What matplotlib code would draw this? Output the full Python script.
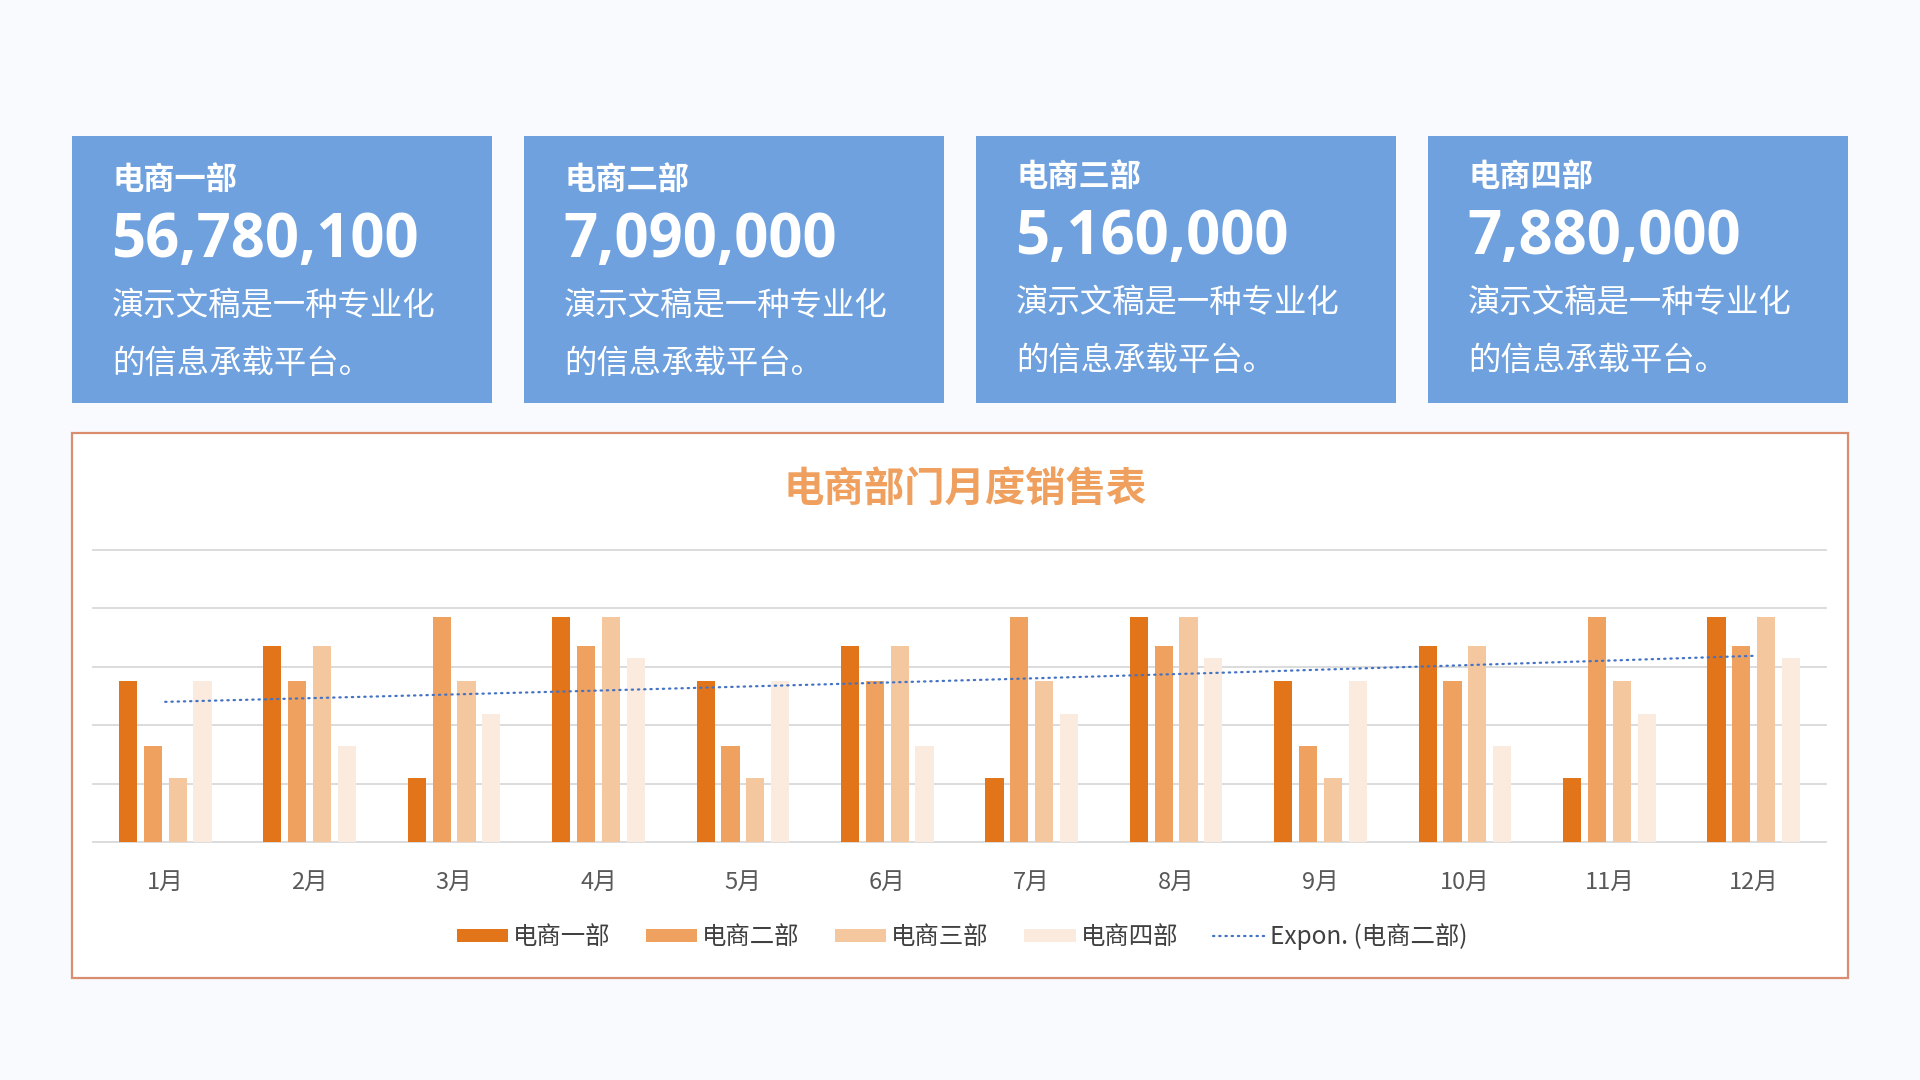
import matplotlib
matplotlib.use('Agg')
import matplotlib.pyplot as plt
import numpy as np
from matplotlib.patches import Rectangle

plt.rcParams['font.family'] = ['Noto Sans CJK SC', 'DejaVu Sans']

# ---------------- data ----------------
months = ['1月', '2月', '3月', '4月', '5月', '6月', '7月', '8月', '9月', '10月', '11月', '12月']
dept_names = ['电商一部', '电商二部', '电商三部', '电商四部']
dept1 = [55, 67, 22, 77, 55, 67, 22, 77, 55, 67, 22, 77]
dept2 = [33, 55, 77, 67, 33, 55, 77, 67, 33, 55, 77, 67]
dept3 = [22, 67, 55, 77, 22, 67, 55, 77, 22, 67, 55, 77]
dept4 = [55, 33, 44, 63, 55, 33, 44, 63, 55, 33, 44, 63]
trend_label = 'Expon. (电商二部)'

card_titles = ['电商一部', '电商二部', '电商三部', '电商四部']
card_values = [56780100, 7090000, 5160000, 7880000]
card_desc_line1 = '演示文稿是一种专业化'
card_desc_line2 = '的信息承载平台。'
chart_title = '电商部门月度销售表'

# ---------------- style ----------------
bar_colors = ['#E2751A', '#EFA25F', '#F5C79F', '#FBEBDE']
trend_color = '#4472C4'
card_color = '#6FA1DF'
bg_color = '#F8FAFD'

W, H = 1920, 1080
fig = plt.figure(figsize=(19.2, 10.8), dpi=100)
fig.patch.set_facecolor(bg_color)


def fx(px):
    return px / W


def fy(py):
    return 1 - py / H


# ---------------- cards ----------------
card_lefts = [72, 524, 976, 1428]
card_w = 420
card_top, card_bot = 136, 403
text_shift = [0, 0, -3, -3]
for left, title, val, s in zip(card_lefts, card_titles, card_values, text_shift):
    fig.patches.append(Rectangle((fx(left), fy(card_bot)), card_w / W, (card_bot - card_top) / H,
                                 transform=fig.transFigure, facecolor=card_color,
                                 edgecolor='none', zorder=-2))
    fig.text(fx(left + 40), fy(180 + s), title, fontsize=22.5, fontweight='bold',
             color='white', ha='left', va='center')
    fig.text(fx(left + 39), fy(257 + s), f'{val:,}', fontsize=43, fontweight='bold',
             family=['Open Sans', 'DejaVu Sans'], color='white', ha='left', va='baseline')
    fig.text(fx(left + 40), fy(306 + s), card_desc_line1, fontsize=23.3,
             color='white', ha='left', va='center')
    fig.text(fx(left + 40), fy(364 + s), card_desc_line2, fontsize=23.3,
             color='white', ha='left', va='center')

# ---------------- chart box ----------------
fig.patches.append(Rectangle((fx(72), fy(978)), (1848 - 72) / W, (978 - 433) / H,
                             transform=fig.transFigure, facecolor='white',
                             edgecolor='#DA8C6E', linewidth=1.6, zorder=-2))
fig.text(fx(965), fy(489.5), chart_title, fontsize=29.1, fontweight='bold',
         color='#EFA05E', ha='center', va='center')

ax = fig.add_axes([fx(93), fy(842), (1826 - 93) / W, (842 - 550) / H])
ax.set_facecolor('none')

x = np.arange(len(months))
step = 0.172
width = 0.1256
handles = []
for i, (vals, c, name) in enumerate(zip([dept1, dept2, dept3, dept4], bar_colors, dept_names)):
    b = ax.bar(x + (i - 1.5) * step, vals, width=width, color=c, zorder=2, label=name)
    handles.append(b)

# exponential trendline of 电商二部
coef = np.polyfit(x + 1, np.log(dept2), 1)
xt = np.linspace(1, 12, 300)
yt = np.exp(coef[1]) * np.exp(coef[0] * xt)
tl, = ax.plot(xt - 1, yt, color=trend_color, lw=1.6, linestyle=(0, (0.6, 2.2)),
              dash_capstyle='round', zorder=3, label=trend_label)
handles.append(tl)

ax.set_xlim(-0.5, len(months) - 0.5)
ax.set_ylim(0, 100)
ax.set_yticks([0, 20, 40, 60, 80, 100])
ax.yaxis.grid(True, color='#D9D9D9', linewidth=1.3)
for gl in ax.get_ygridlines():
    gl.set_clip_on(False)
ax.set_axisbelow(True)
for sp in ax.spines.values():
    sp.set_visible(False)
ax.tick_params(axis='y', left=False, labelleft=False)
ax.set_xticks(x, months)
ax.tick_params(axis='x', length=0, pad=21, labelsize=17, labelcolor='#595959')

labels = dept_names + [trend_label]
fig.legend(handles, labels, loc='center', bbox_to_anchor=(fx(962), fy(936.5)), ncol=5,
           frameon=False, fontsize=17.6, handlelength=2.1, handleheight=0.45,
           handletextpad=0.2, columnspacing=1.45, labelcolor='#404040')

fig.savefig('out.png', dpi=100, facecolor=fig.get_facecolor())
